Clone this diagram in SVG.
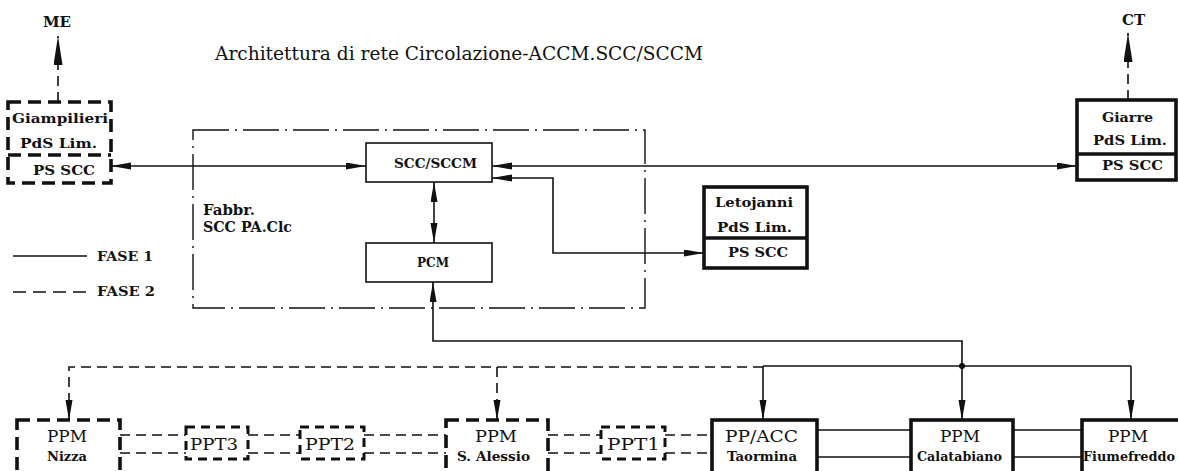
<svg xmlns="http://www.w3.org/2000/svg" width="1178" height="471" viewBox="0 0 1178 471">
<defs>
<style>
.ln{fill:none;stroke:#111;stroke-width:1.6}
.dl{fill:none;stroke:#111;stroke-width:1.6;stroke-dasharray:10 6}
.dd{fill:none;stroke:#111;stroke-width:1.4;stroke-dasharray:36 6 2 6}
.bx{fill:#fff;stroke:#111;stroke-width:1.6}
.tb{fill:#fff;stroke:#111;stroke-width:3.6}
.db{fill:#fff;stroke:#111;stroke-width:3.6;stroke-dasharray:13 7}
.sb{fill:#fff;stroke:#111;stroke-width:3;stroke-dasharray:9 6}
.t{font-family:"DejaVu Serif","Liberation Serif",serif;font-weight:bold;fill:#111}
.title{font-family:"DejaVu Serif","Liberation Serif",serif;fill:#111}
</style>
<marker id="a" markerUnits="userSpaceOnUse" markerWidth="20" markerHeight="8" refX="20" refY="3.5" orient="auto-start-reverse"><path d="M0,0 L20,3.5 L0,7 z" fill="#111"/></marker>
<marker id="big" markerUnits="userSpaceOnUse" markerWidth="29" markerHeight="10" refX="29" refY="4.5" orient="auto-start-reverse"><path d="M0,0 L29,4.5 L0,9 z" fill="#111"/></marker>
</defs>
<rect width="1178" height="471" fill="#fff"/>

<text class="title" x="215" y="60" font-size="19" textLength="488" lengthAdjust="spacingAndGlyphs">Architettura di rete Circolazione-ACCM.SCC/SCCM</text>

<g id="connectors">
<path class="dl" d="M58,102 V36" marker-end="url(#big)"/>
<path class="dl" d="M1128,100 V33" marker-end="url(#big)"/>
<path class="ln" d="M111,166 H366" marker-start="url(#a)" marker-end="url(#a)"/>
<path class="ln" d="M492,166 H1077" marker-start="url(#a)" marker-end="url(#a)"/>
<path class="ln" d="M492,178 H553 V253 H704" marker-start="url(#a)" marker-end="url(#a)"/>
<path class="ln" d="M434,182 V243" marker-start="url(#a)" marker-end="url(#a)"/>
<path class="ln" d="M962,366 V341 H433 V282" marker-end="url(#a)"/>
<path class="ln" d="M763,366 H1131"/>
<path class="ln" d="M763,366 V420" marker-end="url(#a)"/>
<path class="ln" d="M962,366 V420" marker-end="url(#a)"/>
<path class="ln" d="M1131,366 V420" marker-end="url(#a)"/>
<circle cx="962" cy="366" r="3" fill="#111"/>
<path class="dl" d="M763,367 H69 V420" marker-end="url(#a)"/>
<path class="dl" d="M497,367 V420" marker-end="url(#a)"/>
<path class="dl" d="M120,435 H186 M120,453 H186 M248,435 H300 M248,453 H300 M364,435 H446 M364,453 H446 M548,435 H601 M548,453 H601 M665,435 H712 M665,453 H712"/>
<path class="ln" d="M817,430 H911 M817,457 H911 M1013,430 H1082 M1013,457 H1082"/>
<path class="ln" d="M13,256 H87"/>
<path class="dl" d="M13,292 H87" style="stroke-dasharray:13 7"/>
</g>

<g id="legend">
<text class="t" x="97" y="261" font-size="13" textLength="56" lengthAdjust="spacingAndGlyphs">FASE 1</text>
<text class="t" x="97" y="296" font-size="13" textLength="58" lengthAdjust="spacingAndGlyphs">FASE 2</text>
</g>

<g id="ME"><text class="t" x="43" y="27" font-size="14" textLength="28" lengthAdjust="spacingAndGlyphs">ME</text></g>
<g id="CT"><text class="t" x="1122" y="25" font-size="14" textLength="23" lengthAdjust="spacingAndGlyphs">CT</text></g>

<g id="fabbr">
<rect class="dd" x="193" y="130" width="452" height="178"/>
<text class="t" x="203" y="215" font-size="14" textLength="52" lengthAdjust="spacingAndGlyphs">Fabbr.</text>
<text class="t" x="203" y="232" font-size="14" textLength="89" lengthAdjust="spacingAndGlyphs">SCC PA.Clc</text>
</g>

<g id="giampilieri">
<rect class="db" x="8" y="102" width="103" height="81"/>
<path class="db" d="M8,155 H111"/>
<text class="t" x="12" y="123" font-size="13" textLength="96" lengthAdjust="spacingAndGlyphs">Giampilieri</text>
<text class="t" x="20" y="148" font-size="13" textLength="77" lengthAdjust="spacingAndGlyphs">PdS Lim.</text>
<text class="t" x="33" y="175" font-size="13" textLength="62" lengthAdjust="spacingAndGlyphs">PS SCC</text>
</g>

<g id="giarre">
<rect class="tb" x="1077" y="100" width="99" height="80"/>
<path class="tb" d="M1077,154 H1176"/>
<text class="t" x="1102" y="122" font-size="13" textLength="51" lengthAdjust="spacingAndGlyphs">Giarre</text>
<text class="t" x="1093" y="145" font-size="13" textLength="74" lengthAdjust="spacingAndGlyphs">PdS Lim.</text>
<text class="t" x="1102" y="170" font-size="13" textLength="61" lengthAdjust="spacingAndGlyphs">PS SCC</text>
</g>

<g id="scc">
<rect class="bx" x="366" y="143" width="126" height="39"/>
<text class="t" x="394" y="168" font-size="13" textLength="83" lengthAdjust="spacingAndGlyphs">SCC/SCCM</text>
</g>

<g id="pcm">
<rect class="bx" x="366" y="243" width="126" height="39"/>
<text class="t" x="417" y="267" font-size="13" textLength="32" lengthAdjust="spacingAndGlyphs">PCM</text>
</g>

<g id="letojanni">
<rect class="tb" x="704" y="187" width="103" height="81"/>
<path class="tb" d="M704,238 H807"/>
<text class="t" x="715" y="207" font-size="13" textLength="78" lengthAdjust="spacingAndGlyphs">Letojanni</text>
<text class="t" x="717" y="232" font-size="13" textLength="75" lengthAdjust="spacingAndGlyphs">PdS Lim.</text>
<text class="t" x="728" y="257" font-size="13" textLength="60" lengthAdjust="spacingAndGlyphs">PS SCC</text>
</g>

<g id="nizza">
<rect class="db" x="17" y="420" width="103" height="62"/>
<text class="title" x="47" y="442" font-size="17" textLength="40" lengthAdjust="spacingAndGlyphs">PPM</text>
<text class="t" x="47" y="461" font-size="12" textLength="40" lengthAdjust="spacingAndGlyphs">Nizza</text>
</g>

<g id="ppt3">
<rect class="sb" x="186" y="427" width="62" height="32"/>
<text class="title" x="190" y="450" font-size="16" textLength="48" lengthAdjust="spacingAndGlyphs">PPT3</text>
</g>

<g id="ppt2">
<rect class="sb" x="300" y="427" width="64" height="32"/>
<text class="title" x="305" y="450" font-size="16" textLength="50" lengthAdjust="spacingAndGlyphs">PPT2</text>
</g>

<g id="salessio">
<rect class="db" x="446" y="420" width="102" height="62"/>
<text class="title" x="475" y="442" font-size="17" textLength="42" lengthAdjust="spacingAndGlyphs">PPM</text>
<text class="t" x="457" y="461" font-size="12" textLength="73" lengthAdjust="spacingAndGlyphs">S. Alessio</text>
</g>

<g id="ppt1">
<rect class="sb" x="601" y="427" width="64" height="32"/>
<text class="title" x="607" y="450" font-size="16" textLength="53" lengthAdjust="spacingAndGlyphs">PPT1</text>
</g>

<g id="taormina">
<rect class="tb" x="712" y="420" width="105" height="62"/>
<text class="title" x="725" y="442" font-size="17" textLength="73" lengthAdjust="spacingAndGlyphs">PP/ACC</text>
<text class="t" x="727" y="461" font-size="12" textLength="70" lengthAdjust="spacingAndGlyphs">Taormina</text>
</g>

<g id="calatabiano">
<rect class="tb" x="911" y="420" width="102" height="62"/>
<text class="title" x="940" y="442" font-size="17" textLength="40" lengthAdjust="spacingAndGlyphs">PPM</text>
<text class="t" x="917" y="461" font-size="12" textLength="85" lengthAdjust="spacingAndGlyphs">Calatabiano</text>
</g>

<g id="fiumefreddo">
<rect class="tb" x="1082" y="420" width="102" height="62"/>
<text class="title" x="1108" y="442" font-size="17" textLength="40" lengthAdjust="spacingAndGlyphs">PPM</text>
<text class="t" x="1083" y="461" font-size="12" textLength="92" lengthAdjust="spacingAndGlyphs">Fiumefreddo</text>
</g>
</svg>
